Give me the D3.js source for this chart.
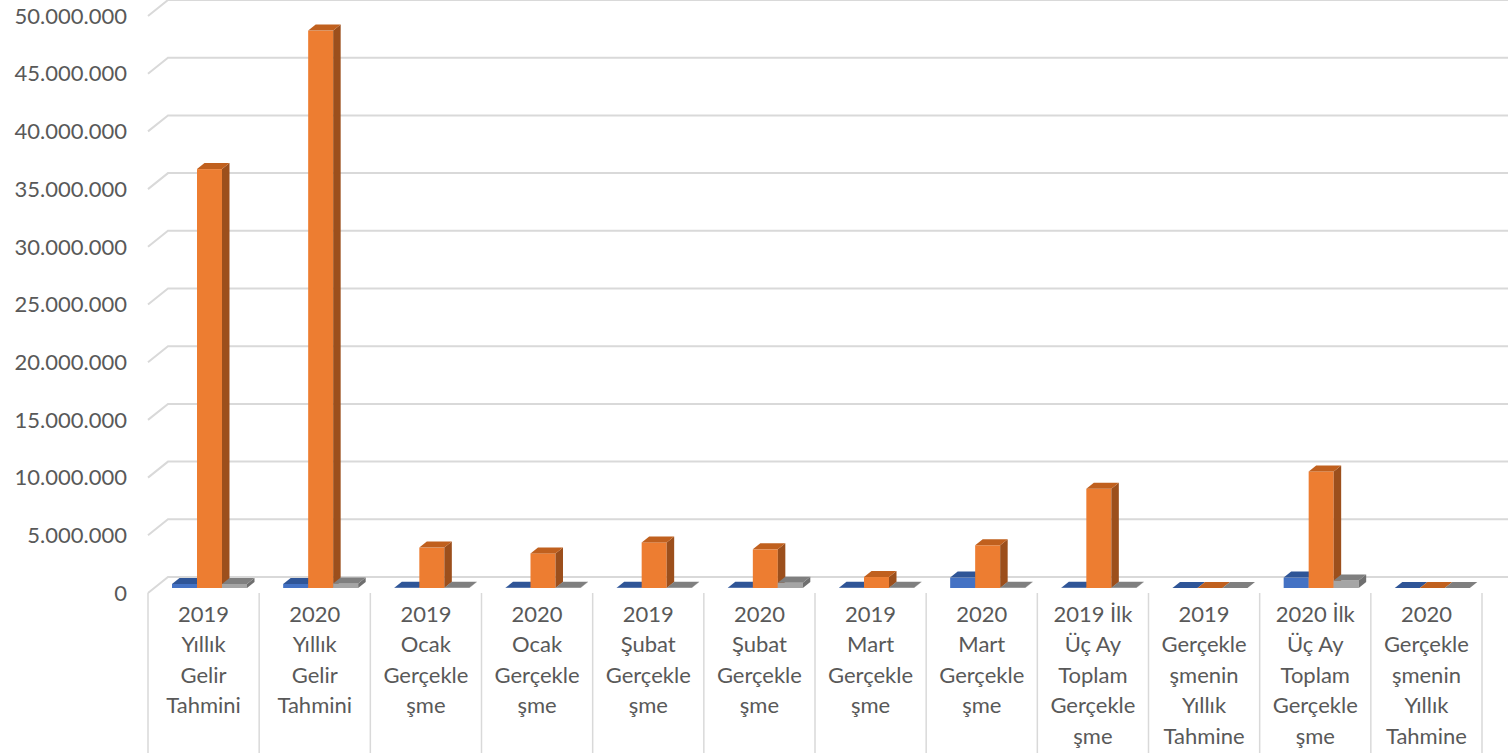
<!DOCTYPE html>
<html>
<head>
<meta charset="utf-8">
<script src="https://cdn.jsdelivr.net/npm/d3@7"></script>
<style>
  body { margin: 0; background: #fff; }
  text { font-family: Lato, "Open Sans", sans-serif; fill: #595959; }
</style>
</head>
<body>
<div id="chart"></div>
<script>
// Categories and their wrapped tick labels
var categories = [
  "2019 Yıllık Gelir Tahmini", "2020 Yıllık Gelir Tahmini",
  "2019 Ocak Gerçekleşme", "2020 Ocak Gerçekleşme",
  "2019 Şubat Gerçekleşme", "2020 Şubat Gerçekleşme",
  "2019 Mart Gerçekleşme", "2020 Mart Gerçekleşme",
  "2019 İlk Üç Ay Toplam Gerçekleşme", "2019 Gerçekleşmenin Yıllık Tahmine",
  "2020 İlk Üç Ay Toplam Gerçekleşme", "2020 Gerçekleşmenin Yıllık Tahmine"
];
var tickLines = [
  ["2019", "Yıllık", "Gelir", "Tahmini"], ["2020", "Yıllık", "Gelir", "Tahmini"],
  ["2019", "Ocak", "Gerçekle", "şme"], ["2020", "Ocak", "Gerçekle", "şme"],
  ["2019", "Şubat", "Gerçekle", "şme"], ["2020", "Şubat", "Gerçekle", "şme"],
  ["2019", "Mart", "Gerçekle", "şme"], ["2020", "Mart", "Gerçekle", "şme"],
  ["2019 İlk", "Üç Ay", "Toplam", "Gerçekle", "şme"], ["2019", "Gerçekle", "şmenin", "Yıllık", "Tahmine"],
  ["2020 İlk", "Üç Ay", "Toplam", "Gerçekle", "şme"], ["2020", "Gerçekle", "şmenin", "Yıllık", "Tahmine"]
];

// Series values
var seriesNames = ["s1", "s2", "s3"];
var blueValues   = [350000, 350000, 20000, 20000, 20000, 20000, 20000, 900000, 20000, 10000, 900000, 10000];
var orangeValues = [36300000, 48300000, 3500000, 3000000, 3950000, 3350000, 950000, 3700000, 8600000, 10000, 10100000, 10000];
var grayValues   = [350000, 400000, 20000, 20000, 20000, 450000, 20000, 20000, 20000, 10000, 650000, 10000];

var yTicks = d3.range(0, 50000001, 5000000);

var svgWidth = 1508;
var svgHeight = 753;

var svg = d3.select("#chart")
  .append("svg")
  .attr("width", svgWidth)
  .attr("height", svgHeight);

// Scales
var xScale = d3.scaleBand().domain(categories).range([148, 1482]);
var xSeries = d3.scaleBand().domain(seriesNames).range([24, 99]);
var yBack = d3.scaleLinear().domain([0, 50000000]).range([577, 0]);   // back wall
var yFront = d3.scaleLinear().domain([0, 50000000]).range([593, 16]); // labels
var yBar = d3.scaleLinear().domain([0, 50000000]).range([588, 11]);   // bar front faces

var fmt = function(v) { return d3.format(",")(v).replace(/,/g, "."); };

// Gridlines (slanted left wall edge + back wall)
svg.append("g").selectAll("polyline")
  .data(yTicks)
  .enter()
  .append("polyline")
  .attr("points", d => `148,${yFront(d)} 168,${yBack(d)} 1508,${yBack(d)}`)
  .attr("fill", "none")
  .attr("stroke", "#d9d9d9")
  .attr("stroke-width", 2);

// Y labels
svg.append("g").selectAll("text")
  .data(yTicks)
  .enter()
  .append("text")
  .attr("x", 127)
  .attr("y", d => yFront(d))
  .attr("dy", "0.35em")
  .attr("text-anchor", "end")
  .style("font-size", "22px")
  .text(d => fmt(d));

// Category dividers
var bounds = categories.map(c => xScale(c)).concat([xScale.range()[1]]);
svg.append("g").selectAll("line")
  .data(bounds)
  .enter()
  .append("line")
  .attr("x1", d => d).attr("x2", d => d)
  .attr("y1", 593).attr("y2", svgHeight)
  .attr("stroke", "#d9d9d9")
  .attr("stroke-width", 1.5);

// Category labels
var labels = svg.append("g").selectAll("text")
  .data(categories)
  .enter()
  .append("text")
  .attr("text-anchor", "middle")
  .style("font-size", "22px");
labels.each(function(c, i) {
  var cx = xScale(c) + xScale.bandwidth() / 2;
  d3.select(this).selectAll("tspan")
    .data(tickLines[i])
    .enter()
    .append("tspan")
    .attr("x", cx)
    .attr("y", (d, j) => 614 + j * 30.5)
    .attr("dy", "0.35em")
    .text(d => d);
});

// 3D bars
var colors = {
  s1: { front: "#4472C4", top: "#2F5597", side: "#2E4F8C" },
  s2: { front: "#ED7D31", top: "#C0601E", side: "#9C4F1C" },
  s3: { front: "#A5A5A5", top: "#7F7F7F", side: "#6F6F6F" }
};
var allValues = { s1: blueValues, s2: orangeValues, s3: grayValues };
var dx = 7.5, dy = -6;

var barData = [];
categories.forEach(function(c, i) {
  seriesNames.forEach(function(s) {
    barData.push({ cat: c, series: s, value: allValues[s][i] });
  });
});

var bars = svg.append("g").selectAll("g")
  .data(barData)
  .enter()
  .append("g");

bars.each(function(d) {
  var g = d3.select(this);
  var x0 = xScale(d.cat) + xSeries(d.series);
  var x1 = x0 + xSeries.bandwidth();
  var yt = yBar(d.value);
  var yb = yBar(0);
  var col = colors[d.series];
  g.append("rect")
    .attr("x", x0).attr("y", yt)
    .attr("width", x1 - x0).attr("height", yb - yt)
    .attr("fill", col.front);
  g.append("polygon")
    .attr("points", `${x1},${yt} ${x1 + dx},${yt + dy} ${x1 + dx},${yb + dy} ${x1},${yb}`)
    .attr("fill", col.side);
  g.append("polygon")
    .attr("points", `${x0},${yt} ${x1},${yt} ${x1 + dx},${yt + dy} ${x0 + dx},${yt + dy}`)
    .attr("fill", col.top);
});
</script>
</body>
</html>
